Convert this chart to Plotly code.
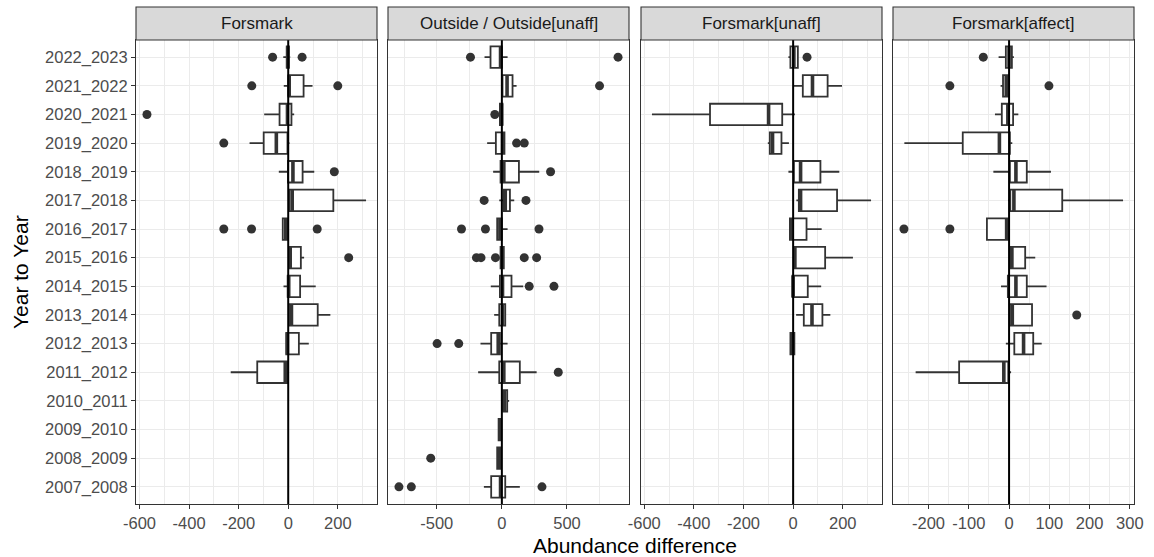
import math
import plotly.graph_objects as go
from plotly.subplots import make_subplots

# Categories, listed top (first) to bottom (last)
CATS = ["2022_2023", "2021_2022", "2020_2021", "2019_2020", "2018_2019", "2017_2018",
        "2016_2017", "2015_2016", "2014_2015", "2013_2014", "2012_2013", "2011_2012",
        "2010_2011", "2009_2010", "2008_2009", "2007_2008"]

PANELS = ["Forsmark", "Outside / Outside[unaff]", "Forsmark[unaff]", "Forsmark[affect]"]

N = None
# ---- Forsmark
P1_LOW = [-20, -18, -97, -156, -38, 0, -22, 5, -19, 3, -8, -232, N, N, N, N]
P1_Q1 = [-6, 1, -35, -99, -1, 5, -22, 5, -2, 3, -8, -125, N, N, N, N]
P1_MED = [-2, 4, -3, -48, 19, 16, -10, 8, 2, 13, -3, -12, N, N, N, N]
P1_Q3 = [3, 62, 13, -3, 58, 182, -1, 51, 48, 119, 43, -3, N, N, N, N]
P1_HIGH = [8, 98, 24, 5, 105, 314, -1, 64, 111, 170, 83, 0, N, N, N, N]
P1_OUT_CAT = ["2022_2023", "2022_2023", "2021_2022", "2021_2022", "2020_2021", "2019_2020",
              "2018_2019", "2016_2017", "2016_2017", "2016_2017", "2015_2016"]
P1_OUT_VAL = [-63, 56, -147, 200, -570, -260, 186, -260, -148, 117, 244]

# ---- Outside / Outside[unaff]
P2_LOW = [-133, 5, -15, -113, -67, -20, -36, -10, -85, -59, -164, -182, 10, -25, -36, -138]
P2_Q1 = [-87, 5, -15, -46, -10, 15, -36, -10, -15, -20, -82, -20, 10, -25, -36, -82]
P2_MED = [-10, 40, -3, 5, 15, 26, -15, 0, 5, 5, -28, 15, 20, -12, -20, -10]
P2_Q3 = [0, 82, 5, 20, 131, 62, 0, 15, 74, 26, -15, 138, 41, -5, -10, 26]
P2_HIGH = [44, 113, 5, 20, 287, 95, 44, 15, 164, 26, 44, 267, 56, -5, -10, 138]
P2_OUT_CAT = ["2022_2023", "2022_2023", "2021_2022", "2020_2021", "2019_2020", "2019_2020",
              "2018_2019", "2017_2018", "2017_2018", "2016_2017", "2016_2017", "2016_2017",
              "2015_2016", "2015_2016", "2015_2016", "2015_2016", "2015_2016",
              "2014_2015", "2014_2015", "2012_2013", "2012_2013", "2011_2012",
              "2008_2009", "2007_2008", "2007_2008", "2007_2008"]
P2_OUT_VAL = [-241, 892, 750, -54, 113, 172,
              374, -136, 185, -310, -126, 285,
              -195, -160, -49, 172, 267,
              210, 400, -497, -331, 433,
              -546, -790, -695, 308]

# ---- Forsmark[unaff]
P3_LOW = [-19, 0, -569, -102, -19, 13, -13, 3, -3, 12, -11, N, N, N, N, N]
P3_Q1 = [-11, 39, -335, -94, 3, 23, -13, 3, -3, 43, -11, N, N, N, N, N]
P3_MED = [3, 78, -99, -83, 30, 30, -9, 7, 0, 76, -3, N, N, N, N, N]
P3_Q3 = [19, 139, -44, -47, 110, 177, 54, 129, 59, 118, 5, N, N, N, N, N]
P3_HIGH = [19, 197, 7, -17, 186, 314, 115, 241, 113, 150, 5, N, N, N, N, N]
P3_OUT_CAT = ["2022_2023"]
P3_OUT_VAL = [56]

# ---- Forsmark[affect]
P4_LOW = [-26, -21, -35, -260, -39, -2, -55, 2, -20, 2, -8, -232, N, N, N, N]
P4_Q1 = [-8, -15, -18, -115, 2, 3, -55, 2, -3, 2, 13, -124, N, N, N, N]
P4_MED = [0, -7, -3, -24, 17, 12, -6, 7, 17, 8, 36, -13, N, N, N, N]
P4_Q3 = [7, 0, 10, 2, 44, 132, 0, 40, 44, 57, 60, -2, N, N, N, N]
P4_HIGH = [12, 0, 23, 8, 104, 283, 0, 65, 93, 57, 81, 5, N, N, N, N]
P4_OUT_CAT = ["2022_2023", "2021_2022", "2021_2022", "2016_2017", "2016_2017", "2013_2014"]
P4_OUT_VAL = [-64, -147, 99, -261, -147, 168]

REF_X = 0

DATA = [
    (P1_LOW, P1_Q1, P1_MED, P1_Q3, P1_HIGH, P1_OUT_CAT, P1_OUT_VAL),
    (P2_LOW, P2_Q1, P2_MED, P2_Q3, P2_HIGH, P2_OUT_CAT, P2_OUT_VAL),
    (P3_LOW, P3_Q1, P3_MED, P3_Q3, P3_HIGH, P3_OUT_CAT, P3_OUT_VAL),
    (P4_LOW, P4_Q1, P4_MED, P4_Q3, P4_HIGH, P4_OUT_CAT, P4_OUT_VAL),
]
MAJOR = [200, 500, 200, 100]
MINOR = [100, 250, 100, 50]

# ---- layout geometry (pixels)
W, H = 1154, 557
PANEL_X = [(136, 377), (388, 629), (641, 882), (893, 1134)]
PLOT_TOP, PLOT_BOT, STRIP_TOP = 40, 504, 7
BOX_W = 0.75

FONT = "Liberation Sans, Arial, Helvetica, sans-serif"
DARK = "#333333"
GRID = "#EBEBEB"

pos_of = {c: len(CATS) - i for i, c in enumerate(CATS)}


def steps(lo, hi, step):
    a = math.ceil(lo / step)
    b = math.floor(hi / step)
    return [i * step for i in range(a, b + 1)]


fig = make_subplots(rows=1, cols=4, shared_yaxes=True, horizontal_spacing=0.01)

for k, (low, q1, med, q3, high, ocat, oval) in enumerate(DATA):
    col = k + 1
    idx = [i for i in range(len(CATS)) if q1[i] is not None]
    ys = [pos_of[CATS[i]] for i in idx]
    fig.add_trace(go.Box(
        y=ys, q1=[q1[i] for i in idx], median=[med[i] for i in idx], q3=[q3[i] for i in idx],
        lowerfence=[low[i] for i in idx], upperfence=[high[i] for i in idx],
        orientation="h", boxpoints=False, width=BOX_W, whiskerwidth=0,
        fillcolor="white", line=dict(color=DARK, width=1.8), hoverinfo="skip",
        showlegend=False), row=1, col=col)
    mx, my = [], []
    for i in idx:
        p = pos_of[CATS[i]]
        mx += [med[i], med[i], None]
        my += [p - BOX_W / 2, p + BOX_W / 2, None]
    fig.add_trace(go.Scatter(x=mx, y=my, mode="lines", line=dict(color=DARK, width=3.6),
                             hoverinfo="skip", showlegend=False), row=1, col=col)
    fig.add_trace(go.Scatter(x=oval, y=[pos_of[c] for c in ocat], mode="markers",
                             marker=dict(color=DARK, size=9), hoverinfo="skip",
                             showlegend=False), row=1, col=col)
    # ggplot-like 5% expansion of the data range
    vals = [v for arr in (low, high) for v in arr if v is not None] + list(oval)
    lo, hi = min(vals), max(vals)
    pad = 0.05 * (hi - lo)
    rlo, rhi = lo - pad, hi + pad
    major = steps(rlo, rhi, MAJOR[k])
    minor = [v for v in steps(rlo, rhi, MINOR[k]) if v not in major]
    x0, x1 = PANEL_X[k]
    fig.update_xaxes(row=1, col=col, range=[rlo, rhi], domain=[x0 / W, x1 / W],
                     automargin=False, tickmode="array", tickvals=major,
                     ticktext=[str(v) for v in major],
                     showgrid=True, gridcolor=GRID, gridwidth=1.3,
                     minor=dict(tickmode="array", tickvals=minor, showgrid=True,
                                gridcolor=GRID, gridwidth=0.7),
                     zeroline=False, showline=True, linecolor=DARK, linewidth=1.1, mirror=True,
                     ticks="outside", ticklen=4, tickcolor=DARK, tickwidth=1.1,
                     tickfont=dict(family=FONT, size=16.5, color="#4D4D4D"))
    fig.update_yaxes(row=1, col=col, range=[0.4, len(CATS) + 0.6],
                     domain=[1 - PLOT_BOT / H, 1 - PLOT_TOP / H], automargin=False,
                     tickvals=[pos_of[c] for c in CATS], ticktext=CATS,
                     showgrid=True, gridcolor=GRID, gridwidth=1.3, zeroline=False,
                     showline=True, linecolor=DARK, linewidth=1.1, mirror=True,
                     ticks="outside" if k == 0 else "", ticklen=4, tickcolor=DARK, tickwidth=1.1,
                     showticklabels=(k == 0),
                     tickfont=dict(family=FONT, size=16.5, color="#4D4D4D"))
    fig.add_vline(x=REF_X, line_color="black", line_width=2, layer="above", row=1, col=col)
    xref = "x domain" if k == 0 else f"x{col} domain"
    fig.add_shape(type="rect", xref=xref, yref="paper", x0=0, x1=1,
                  y0=1 - PLOT_TOP / H, y1=1 - STRIP_TOP / H,
                  fillcolor="#D9D9D9", line=dict(color=DARK, width=1.1), layer="above")
    fig.add_annotation(xref=xref, yref="paper", x=0.5, y=1 - (PLOT_TOP + STRIP_TOP) / 2 / H,
                       text=PANELS[k], showarrow=False, xanchor="center", yanchor="middle",
                       font=dict(family=FONT, size=17, color="#1A1A1A"))

fig.add_annotation(xref="paper", yref="paper", x=(PANEL_X[0][0] + PANEL_X[-1][1]) / 2 / W,
                   y=1 - 545 / H, text="Abundance difference", showarrow=False,
                   xanchor="center", yanchor="middle", font=dict(family=FONT, size=21, color="black"))
fig.add_annotation(xref="paper", yref="paper", x=20 / W, y=1 - (PLOT_TOP + PLOT_BOT) / 2 / H,
                   text="Year to Year", showarrow=False, textangle=-90,
                   xanchor="center", yanchor="middle", font=dict(family=FONT, size=21, color="black"))

fig.update_layout(width=W, height=H, margin=dict(l=0, r=0, t=0, b=0),
                  plot_bgcolor="white", paper_bgcolor="white", showlegend=False)

fig.write_html("out.html")
